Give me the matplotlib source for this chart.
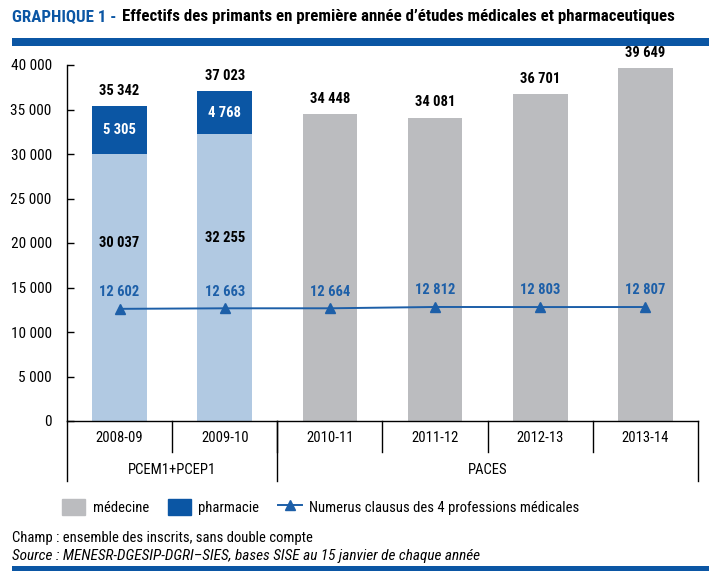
import matplotlib
matplotlib.use("Agg")
import matplotlib.pyplot as plt
from matplotlib import font_manager as fm
from matplotlib.patches import Rectangle, Patch
from matplotlib.lines import Line2D

# ---------------- data ----------------
years = ["2008-09", "2009-10", "2010-11", "2011-12", "2012-13", "2013-14"]
groups = ["PCEM1+PCEP1", "PACES"]
group_sizes = [2, 4]
medecine = [30037, 32255, 34448, 34081, 36701, 39649]
pharmacie = [5305, 4768, 0, 0, 0, 0]
numerus = [12602, 12663, 12664, 12812, 12803, 12807]
yticks = [0, 5000, 10000, 15000, 20000, 25000, 30000, 35000, 40000]
legend_labels = ["médecine", "pharmacie", "Numerus clausus des 4 professions médicales"]

# ---------------- fonts ----------------
avail = {f.name for f in fm.fontManager.ttflist}
FONT = "DejaVu Sans"
for cand in ["Roboto Condensed", "Archivo Narrow", "Liberation Sans Narrow"]:
    if cand in avail:
        FONT = cand
        break
plt.rcParams["font.family"] = [FONT, "DejaVu Sans"]

W, H = 727, 571
fig = plt.figure(figsize=(W / 100, H / 100), dpi=100)

def fx(x):
    return x / W

def fy(y):
    return 1 - y / H

BLUE = "#0b56a4"
LBLUE = "#b1c9e2"
GRAY = "#bbbcbf"
LINEBLUE = "#1d5fa8"

ax = fig.add_axes([fx(67), fy(421), fx(698) - fx(67), fy(65) - fy(421)])
x = list(range(len(years)))
med_colors = [LBLUE if p > 0 else GRAY for p in pharmacie]
ax.bar(x, medecine, width=0.52, color=med_colors, zorder=2)
ax.bar(x, pharmacie, width=0.52, bottom=medecine, color=BLUE, zorder=2)
ax.plot(x, numerus, color=LINEBLUE, lw=1.4, marker="^", ms=7, zorder=3)

fmt = lambda v: f"{v:,}".replace(",", " ")

ax.set_xlim(-0.5, len(years) - 0.5)
ax.set_ylim(0, 40000)
ax.set_yticks(yticks)
ax.set_yticklabels([fmt(v) for v in yticks], fontsize=11)
ax.tick_params(axis="y", direction="in", length=5, width=1, pad=11)
ax.set_xticks([])
for s in ["top", "right"]:
    ax.spines[s].set_visible(False)
ax.spines["left"].set_linewidth(1)
ax.spines["bottom"].set_linewidth(1)

totals = [m + p for m, p in zip(medecine, pharmacie)]
for i in x:
    ax.annotate(fmt(totals[i]), (i, totals[i]), xytext=(0, 11), textcoords="offset points",
                ha="center", va="center", fontsize=10.5, fontweight="bold", clip_on=False)
    if pharmacie[i] > 0:
        ax.text(i, medecine[i] + pharmacie[i] / 2, fmt(pharmacie[i]), ha="center", va="center",
                fontsize=10.5, fontweight="bold", color="white", zorder=4)
        ax.annotate(fmt(medecine[i]), (i, 20000 + (medecine[i] - 30000) * 0.25), ha="center",
                    va="center", fontsize=10.5, fontweight="bold", zorder=4)
    ax.annotate(fmt(numerus[i]), (i, numerus[i]), xytext=(0, 12), textcoords="offset points",
                ha="center", va="center", fontsize=10.5, fontweight="bold", color=LINEBLUE, zorder=4)

# category axis
r1 = -31 / 356
r2 = -60 / 356
tr = ax.get_xaxis_transform()
for i in range(1, len(years)):
    ax.plot([i - 0.5, i - 0.5], [0, r1], transform=tr, color="black", lw=1, clip_on=False)
for i, yr in enumerate(years):
    ax.text(i, -17 / 356, yr, transform=tr, ha="center", va="center", fontsize=10.5)
pos = -0.5
bounds = [pos]
for gname, gs in zip(groups, group_sizes):
    ax.text(pos + gs / 2, -49 / 356, gname, transform=tr, ha="center", va="center", fontsize=10.5)
    pos += gs
    bounds.append(pos)
for b in bounds:
    ax.plot([b, b], [0, r2], transform=tr, color="black", lw=1, clip_on=False)

# legend
handles = [Patch(color=GRAY), Patch(color=BLUE),
           Line2D([], [], color=LINEBLUE, lw=1.4, marker="^", ms=7)]
fig.legend(handles, legend_labels,
           loc="center left", bbox_to_anchor=(fx(62), fy(507)), ncol=3, frameon=False,
           fontsize=10.5, handlelength=1.6, handleheight=1.4, handletextpad=0.5,
           columnspacing=1.3, borderpad=0, borderaxespad=0)

# title and rules
t1 = fig.text(fx(12), fy(17), "GRAPHIQUE 1 -", color=BLUE, fontsize=12.2, fontweight="bold",
              va="center", ha="left")
fig.add_artist(plt.Annotation(
    "Effectifs des primants en première année d’études médicales et pharmaceutiques",
    xy=(1, 0.5), xycoords=t1, xytext=(4, 0), textcoords="offset points",
    color="black", fontsize=12.2, fontweight="bold", va="center", ha="left"))
fig.add_artist(Rectangle((fx(12), fy(46)), fx(709) - fx(12), fy(38) - fy(46),
                         transform=fig.transFigure, color=BLUE, lw=0))
fig.add_artist(Rectangle((fx(12), fy(571)), fx(709) - fx(12), fy(566) - fy(571),
                         transform=fig.transFigure, color=BLUE, lw=0))
fig.text(fx(12), fy(538), "Champ : ensemble des inscrits, sans double compte", fontsize=10.5,
         va="center", ha="left")
fig.text(fx(12), fy(556), "Source : MENESR-DGESIP-DGRI–SIES, bases SISE au 15 janvier de chaque année",
         fontsize=11, style="italic", va="center", ha="left")

fig.savefig("out.png", dpi=100)
